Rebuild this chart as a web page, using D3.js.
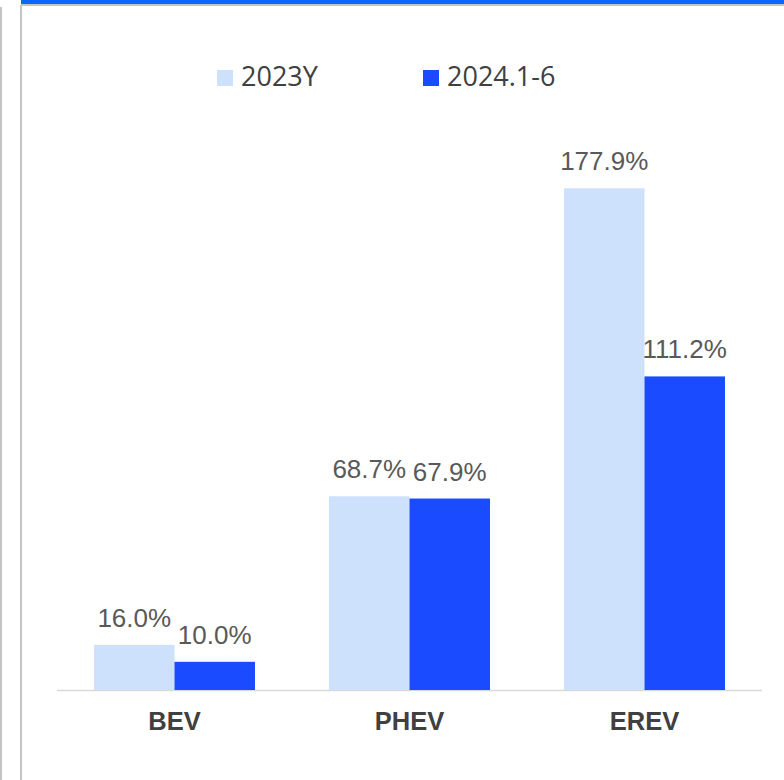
<!DOCTYPE html>
<html>
<head>
<meta charset="utf-8">
<script src="https://cdn.jsdelivr.net/npm/d3@7"></script>
<style>
  body { margin: 0; background: #fff; }
</style>
</head>
<body>
<div id="chart"></div>
<script>
const WIDTH = 784;
const HEIGHT = 780;

const categories = ['BEV', 'PHEV', 'EREV'];
const seriesNames = ['2023Y', '2024.1-6'];
const values2023 = [16.0, 68.7, 177.9];
const values2024 = [10.0, 67.9, 111.2];
const colors = ['#cde0fc', '#1a4bff'];

const data = categories.map((c, i) => ({
    cat: c,
    vals: [
        { s: seriesNames[0], v: values2023[i] },
        { s: seriesNames[1], v: values2024[i] }
    ]
}));

const svg = d3.select('#chart')
    .append('svg')
    .attr('width', WIDTH)
    .attr('height', HEIGHT);

// frame bits around the chart
svg.append('rect').attr('x', 21).attr('y', 0).attr('width', WIDTH - 21).attr('height', 4).attr('fill', '#0a66ff');
svg.append('rect').attr('x', 21).attr('y', 4).attr('width', WIDTH - 21).attr('height', 2).attr('fill', '#c4c4c4');
svg.append('rect').attr('x', 0).attr('y', 7).attr('width', 2).attr('height', HEIGHT).attr('fill', '#c4c4c4');
svg.append('rect').attr('x', 20).attr('y', 5).attr('width', 2).attr('height', HEIGHT).attr('fill', '#c4c4c4');

// Scales
const xScale = d3.scaleBand()
    .domain(categories)
    .range([57, 762])
    .padding(0);

const xInner = d3.scaleBand()
    .domain(seriesNames)
    .range([0, xScale.bandwidth()])
    .paddingInner(0)
    .paddingOuter(0.46);

const yScale = d3.scaleLinear()
    .domain([0, 200])
    .range([690, 126]);

const color = d3.scaleOrdinal().domain(seriesNames).range(colors);

// Baseline
svg.append('line')
    .attr('x1', 57).attr('x2', 762)
    .attr('y1', yScale(0) + 0.5).attr('y2', yScale(0) + 0.5)
    .attr('stroke', '#d9d9d9')
    .attr('stroke-width', 1.5);

// Bars
const groups = svg.selectAll('g.cat')
    .data(data)
    .enter()
    .append('g')
    .attr('class', 'cat')
    .attr('transform', d => `translate(${xScale(d.cat)},0)`);

groups.selectAll('rect')
    .data(d => d.vals)
    .enter()
    .append('rect')
    .attr('x', d => xInner(d.s))
    .attr('y', d => yScale(d.v))
    .attr('width', xInner.bandwidth())
    .attr('height', d => yScale(0) - yScale(d.v))
    .attr('fill', d => color(d.s));

// Value labels
groups.selectAll('text.val')
    .data(d => d.vals)
    .enter()
    .append('text')
    .attr('class', 'val')
    .text(d => d.v.toFixed(1) + '%')
    .attr('x', d => xInner(d.s) + xInner.bandwidth() / 2)
    .attr('y', d => yScale(d.v) - 18)
    .attr('text-anchor', 'middle')
    .attr('font-family', '"Liberation Sans", Arial, sans-serif')
    .attr('font-size', 26)
    .attr('fill', '#595959');

// Category axis labels
svg.selectAll('text.cat')
    .data(categories)
    .enter()
    .append('text')
    .attr('class', 'cat')
    .text(d => d)
    .attr('x', d => xScale(d) + xScale.bandwidth() / 2)
    .attr('y', 730)
    .attr('text-anchor', 'middle')
    .attr('font-family', '"Liberation Sans", Arial, sans-serif')
    .attr('font-weight', 'bold')
    .attr('font-size', 25.5)
    .attr('fill', '#404040');

// Legend
const legend = svg.selectAll('g.legend')
    .data(seriesNames)
    .enter()
    .append('g')
    .attr('class', 'legend')
    .attr('transform', (d, i) => `translate(${217 + i * 206},0)`);

legend.append('rect')
    .attr('x', 0)
    .attr('y', 70)
    .attr('width', 16)
    .attr('height', 16)
    .attr('fill', d => color(d));

legend.append('text')
    .text(d => d)
    .attr('x', 24)
    .attr('y', 86)
    .attr('font-family', '"Open Sans", sans-serif')
    .attr('font-size', 27)
    .attr('fill', '#404040');
</script>
</body>
</html>
